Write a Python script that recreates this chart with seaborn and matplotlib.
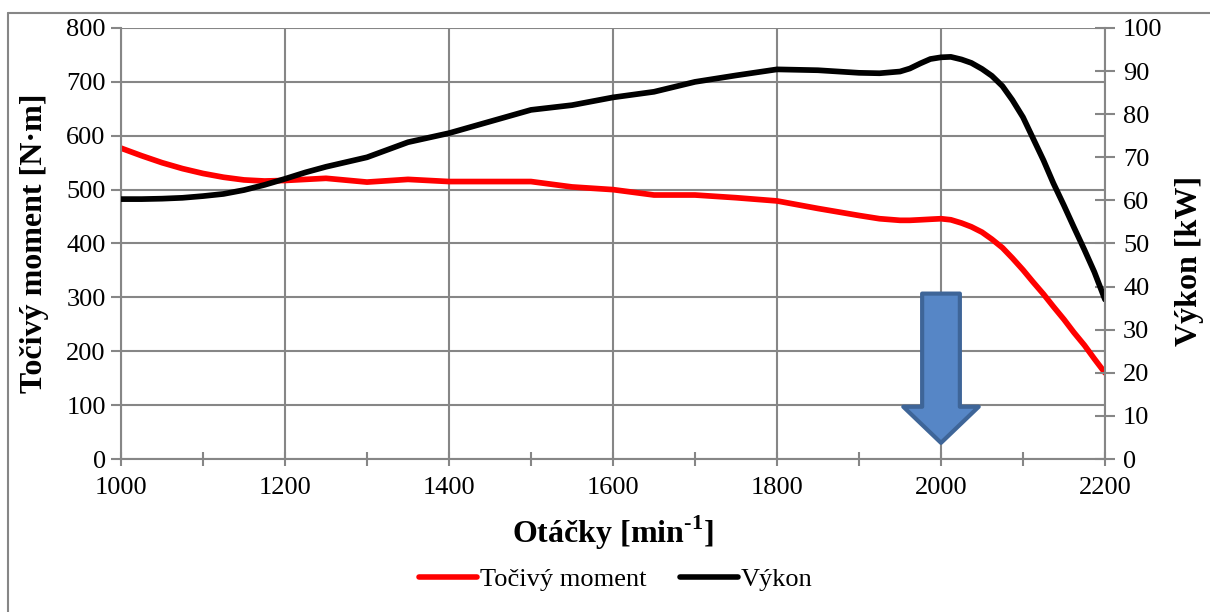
import matplotlib
matplotlib.use("Agg")
import matplotlib.pyplot as plt
from matplotlib.patches import Polygon
from matplotlib.lines import Line2D
from matplotlib.ticker import MultipleLocator
import seaborn as sns
import pandas as pd

# ---- data ----
rpm = [1000, 1025, 1050, 1075, 1100, 1125, 1150, 1175, 1200, 1225, 1250, 1300,
       1350, 1400, 1450, 1500, 1550, 1600, 1650, 1700, 1750, 1800, 1850, 1900,
       1925, 1950, 1962, 1975, 1987, 2000, 2012, 2025, 2037, 2050, 2062, 2075,
       2087, 2100, 2112, 2125, 2137, 2150, 2162, 2175, 2187, 2200]
torque = [577, 563, 550, 539, 530, 523, 518, 516, 517, 519, 521, 514,
          519, 515, 515, 515, 505, 500, 490, 490, 485, 479, 465, 452,
          446, 443, 443, 444, 445, 446, 444, 438, 431, 421, 408, 392,
          373, 351, 329, 306, 283, 259, 235, 211, 186, 160]
power = [60.3, 60.3, 60.4, 60.6, 61.0, 61.5, 62.4, 63.6, 65.0, 66.5, 67.8, 70.0,
         73.5, 75.6, 78.3, 81.0, 82.1, 83.9, 85.2, 87.5, 89.0, 90.4, 90.2, 89.6,
         89.5, 89.9, 90.6, 91.8, 92.8, 93.2, 93.3, 92.7, 91.9, 90.5, 88.9, 86.5,
         83.3, 79.3, 74.5, 69.3, 64.0, 58.8, 53.8, 48.5, 43.4, 37.0]

series_names = ["Točivý moment", "Výkon"]
x_label = "Otáčky [min$^{\\text{-1}}$]"
y_label_left = "Točivý moment [N·m]"
y_label_right = "Výkon [kW]"

df = pd.DataFrame({"rpm": rpm, "torque": torque, "power": power})

# ---- style ----
sns.set_theme(style="white")
plt.rcParams["font.family"] = ["Liberation Serif", "DejaVu Serif"]
plt.rcParams["mathtext.fontset"] = "custom"
plt.rcParams["mathtext.rm"] = "Liberation Serif:bold"
plt.rcParams["mathtext.bf"] = "Liberation Serif:bold"
for key in ["text.color", "axes.labelcolor", "xtick.labelcolor", "ytick.labelcolor"]:
    plt.rcParams[key] = "black"

GRID = "#868686"
fig = plt.figure(figsize=(12.1, 6.12), dpi=100)
ax = fig.add_axes([121 / 1210, 1 - 459 / 612, 984 / 1210, 431 / 612])

sns.lineplot(data=df, x="rpm", y="torque", ax=ax, color="#FF0000",
             linewidth=4.1, legend=False, solid_joinstyle="round",
             solid_capstyle="round")
ax2 = ax.twinx()
sns.lineplot(data=df, x="rpm", y="power", ax=ax2, color="#000000",
             linewidth=4.1, legend=False, solid_joinstyle="round",
             solid_capstyle="round")

ax.set_xlim(1000, 2200)
ax.set_ylim(0, 800)
ax2.set_ylim(0, 100)
ax.xaxis.set_major_locator(MultipleLocator(200))
ax.xaxis.set_minor_locator(MultipleLocator(100))
ax.yaxis.set_major_locator(MultipleLocator(100))
ax2.yaxis.set_major_locator(MultipleLocator(10))

ax.grid(True, which="major", color=GRID, linewidth=1.5)
ax2.grid(False)
ax.set_axisbelow(True)

for s in ["top", "right"]:
    ax.spines[s].set_visible(False)
for s in ["left", "bottom"]:
    ax.spines[s].set_color(GRID)
    ax.spines[s].set_linewidth(1.5)
for s in ["top", "left", "bottom"]:
    ax2.spines[s].set_visible(False)
ax2.spines["right"].set_color(GRID)
ax2.spines["right"].set_linewidth(1.5)

ax.tick_params(axis="y", which="major", direction="out", length=7, width=1.5,
               color=GRID, labelsize=19, pad=4, left=True, labelcolor="black")
ax.tick_params(axis="x", which="both", direction="inout", length=10, width=1.5,
               color=GRID, labelsize=19, pad=8, bottom=True, labelcolor="black")
ax2.tick_params(axis="y", direction="inout", length=14, width=1.5,
                color=GRID, labelsize=19, pad=6, right=True, labelcolor="black")

ax.set_xlabel(x_label, fontsize=23, fontweight="bold")
ax.xaxis.set_label_coords(0.5, -0.172)
ax.xaxis.label.set_verticalalignment("center")
ax.set_ylabel(y_label_left, fontsize=23, fontweight="bold")
ax.yaxis.set_label_coords((35 - 121) / 984, 0.5)
ax.yaxis.label.set_verticalalignment("center")
ax2.set_ylabel(y_label_right, fontsize=23, fontweight="bold", rotation=90)
ax2.yaxis.set_label_coords((1190 - 121) / 984, 0.46)
ax2.yaxis.label.set_verticalalignment("center")

# ---- arrow annotation (in rpm / torque coordinates) ----
arrow_x = 2000
shaft_half = 23
head_half = 46
arrow_top, head_base, arrow_tip = 307, 97, 30
arrow_pts = [(arrow_x - shaft_half, arrow_top), (arrow_x + shaft_half, arrow_top),
             (arrow_x + shaft_half, head_base), (arrow_x + head_half, head_base),
             (arrow_x, arrow_tip), (arrow_x - head_half, head_base),
             (arrow_x - shaft_half, head_base)]
ax.add_patch(Polygon(arrow_pts, closed=True, facecolor="#5686C6",
                     edgecolor="#3E6598", linewidth=3, joinstyle="round",
                     zorder=5))

# ---- legend ----
handles = [Line2D([], [], color="#FF0000", linewidth=4, solid_capstyle="round"),
           Line2D([], [], color="#000000", linewidth=4, solid_capstyle="round")]
fig.legend(handles, series_names, loc="center", bbox_to_anchor=(0.509, 1 - 579 / 612),
           ncol=2, frameon=False, fontsize=19, handlelength=2.2,
           handletextpad=0.1, columnspacing=1.3)

# ---- outer chart border ----
fig.add_artist(Line2D([7.5 / 1210, 7.5 / 1210], [0, 1 - 13 / 612],
                      transform=fig.transFigure, color=GRID, linewidth=1.5))
fig.add_artist(Line2D([7.5 / 1210, 1], [1 - 13 / 612, 1 - 13 / 612],
                      transform=fig.transFigure, color=GRID, linewidth=1.5))

fig.savefig("out.png", dpi=100)
